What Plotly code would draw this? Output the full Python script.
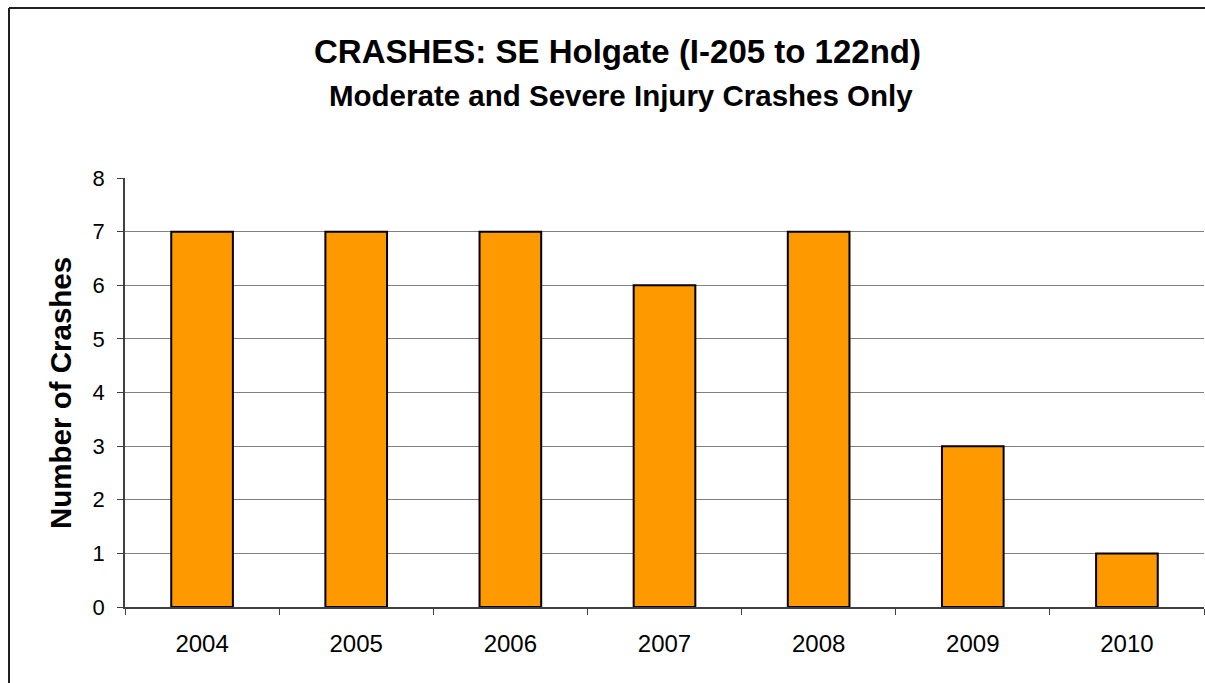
import plotly.graph_objects as go

years = ["2004", "2005", "2006", "2007", "2008", "2009", "2010"]
crashes = [7, 7, 7, 6, 7, 3, 1]

W, H = 1205, 683
L, R, T, B = 125, 1, 178, 76
pw = W - L - R
ph = H - T - B

fig = go.Figure()
fig.add_trace(go.Bar(
    x=years, y=crashes,
    marker=dict(color="#FF9900", line=dict(color="#000000", width=2)),
    width=0.4,
))

def px2paper_x(px):
    return (px - L) / pw

def px2paper_y(py):
    return (H - B - py) / ph

border = dict(color="#202020", width=2)

fig.update_layout(
    width=W, height=H,
    margin=dict(l=L, r=R, t=T, b=B),
    plot_bgcolor="white", paper_bgcolor="white",
    showlegend=False,
    font=dict(family="Liberation Sans, Arial, sans-serif", color="black"),
    xaxis=dict(
        type="category",
        showgrid=False,
        showline=True, linecolor="#404040", linewidth=1.5,
        ticks="outside", ticklen=6, tickcolor="#404040", tickson="boundaries",
        tickfont=dict(size=24),
        ticklabelstandoff=14,
        range=[-0.5, 6.5],
        fixedrange=True,
    ),
    yaxis=dict(
        range=[0, 8], dtick=1,
        showgrid=True, gridcolor="#808080", gridwidth=1,
        showline=True, linecolor="#404040", linewidth=1.5,
        ticks="outside", ticklen=6, tickcolor="#404040",
        tickfont=dict(size=22),
        ticklabelstandoff=8,
        zeroline=False,
        fixedrange=True,
    ),
    shapes=[
        dict(type="line", xref="paper", yref="paper",
             x0=px2paper_x(9), x1=px2paper_x(1210),
             y0=px2paper_y(8), y1=px2paper_y(8), line=border, layer="below"),
        dict(type="line", xref="paper", yref="paper",
             x0=px2paper_x(9), x1=px2paper_x(9),
             y0=px2paper_y(8), y1=px2paper_y(690), line=border, layer="below"),
    ],
    annotations=[
        dict(text="<b>CRASHES: SE Holgate (I-205 to 122nd)</b>",
             xref="paper", yref="paper", x=px2paper_x(617), y=px2paper_y(52),
             xanchor="center", yanchor="middle", showarrow=False,
             font=dict(size=33)),
        dict(text="<b>Moderate and Severe Injury Crashes Only</b>",
             xref="paper", yref="paper", x=px2paper_x(621), y=px2paper_y(95),
             xanchor="center", yanchor="middle", showarrow=False,
             font=dict(size=29.5)),
        dict(text="<b>Number of Crashes</b>",
             xref="paper", yref="paper", x=px2paper_x(60), y=px2paper_y(393),
             xanchor="center", yanchor="middle", showarrow=False, textangle=-90,
             font=dict(size=29.5)),
    ],
)

fig.write_html(
    "out.html",
    config={"displayModeBar": False},
    post_script="document.body.style.margin='0';document.body.style.overflow='hidden';",
)
